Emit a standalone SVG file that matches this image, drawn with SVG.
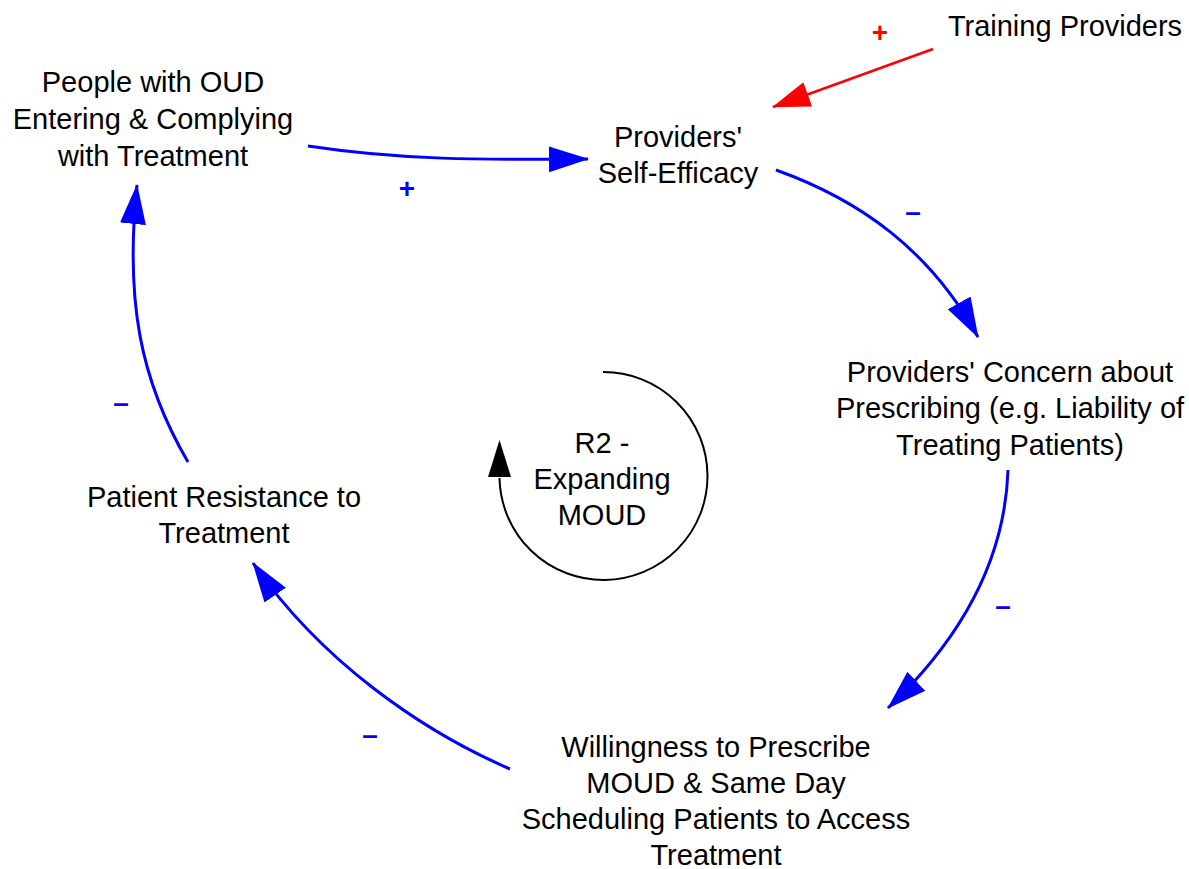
<svg xmlns="http://www.w3.org/2000/svg" width="1189" height="869" viewBox="0 0 1189 869">
  <style>
    .lbl { font-family: "Liberation Sans", Arial, Helvetica, sans-serif; font-size: 29px; fill: #000; text-anchor: middle; }
    .pol { font-family: "Liberation Sans", Arial, Helvetica, sans-serif; font-size: 28px; font-weight: bold; text-anchor: middle; }
    .blue { fill: #0000ff; }
    .red { fill: #ff0000; }
    .link { fill: none; stroke: #0000ff; stroke-width: 3; }
    .link-red { fill: none; stroke: #ff0000; stroke-width: 2.5; }
  </style>
  <defs>
    <marker id="head-blue" markerUnits="userSpaceOnUse" markerWidth="40" markerHeight="28" viewBox="0 0 40 28" refX="39" refY="14" orient="auto">
      <path d="M0,1 L40,14 L0,27 z" fill="#0000ff"/>
    </marker>
    <marker id="head-red" markerUnits="userSpaceOnUse" markerWidth="38" markerHeight="28" viewBox="0 0 38 28" refX="37" refY="14" orient="auto">
      <path d="M0,1 L38,14 L0,27 z" fill="#ff0000"/>
    </marker>
  </defs>

  <rect width="1189" height="869" fill="#ffffff"/>

  <g id="connectors">
    <path class="link-red" d="M933,49 L773,107" marker-end="url(#head-red)"/>
    <path class="link" d="M308,146 C400,160 480,160 588,159" marker-end="url(#head-blue)"/>
    <path class="link" d="M776,170 C860,200 930,250 978,337" marker-end="url(#head-blue)"/>
    <path class="link" d="M1008,470 C1005,560 960,640 888,708" marker-end="url(#head-blue)"/>
    <path class="link" d="M510,769 C420,730 320,660 253,563" marker-end="url(#head-blue)"/>
    <path class="link" d="M188,462 C140,380 125,300 137,185" marker-end="url(#head-blue)"/>
  </g>

  <g id="polarities">
    <text class="pol red" x="880" y="42">+</text>
    <text class="pol blue" x="407" y="198">+</text>
    <text class="pol blue" x="913" y="221">–</text>
    <text class="pol blue" x="1003" y="615">–</text>
    <text class="pol blue" x="370" y="744">–</text>
    <text class="pol blue" x="121" y="412">–</text>
  </g>

  <g id="training-providers">
    <text class="lbl" x="1065" y="36">Training Providers</text>
  </g>

  <g id="people-entering-treatment">
    <text class="lbl" x="153" y="92">People with OUD</text>
    <text class="lbl" x="153" y="129">Entering &amp; Complying</text>
    <text class="lbl" x="153" y="166">with Treatment</text>
  </g>

  <g id="providers-self-efficacy">
    <text class="lbl" x="678" y="147">Providers'</text>
    <text class="lbl" x="678" y="183">Self-Efficacy</text>
  </g>

  <g id="providers-concern">
    <text class="lbl" x="1010" y="382">Providers' Concern about</text>
    <text class="lbl" x="1010" y="418">Prescribing (e.g. Liability of</text>
    <text class="lbl" x="1010" y="455">Treating Patients)</text>
  </g>

  <g id="willingness-to-prescribe">
    <text class="lbl" x="716" y="757">Willingness to Prescribe</text>
    <text class="lbl" x="716" y="793">MOUD &amp; Same Day</text>
    <text class="lbl" x="716" y="829">Scheduling Patients to Access</text>
    <text class="lbl" x="716" y="865">Treatment</text>
  </g>

  <g id="patient-resistance">
    <text class="lbl" x="224" y="507">Patient Resistance to</text>
    <text class="lbl" x="224" y="543">Treatment</text>
  </g>

  <g id="loop-r2">
    <path d="M603,372 A104,104 0 1 1 499.5,478" fill="none" stroke="#000" stroke-width="2"/>
    <path d="M499.5,440 L511,477 L488,477 z" fill="#000"/>
    <text class="lbl" x="602" y="453">R2 -</text>
    <text class="lbl" x="602" y="489">Expanding</text>
    <text class="lbl" x="602" y="525">MOUD</text>
  </g>
</svg>
